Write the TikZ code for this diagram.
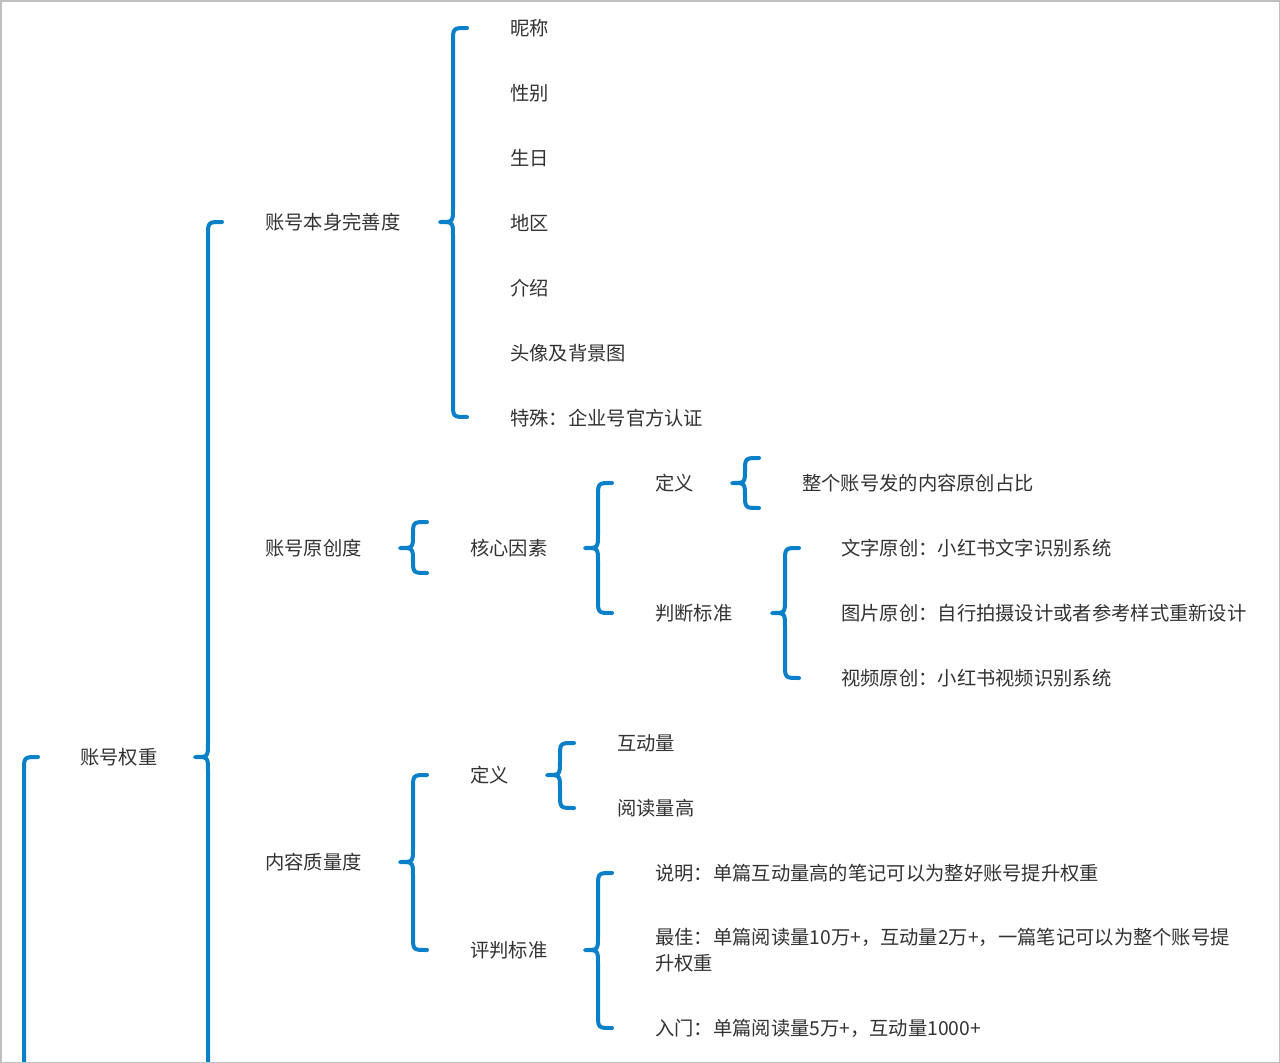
\documentclass[tikz,border=0pt]{standalone}
\usepackage{fontspec}
\setmainfont{Noto Sans CJK SC}
\definecolor{bl}{HTML}{0A80C8}
\definecolor{tx}{HTML}{333333}
\newcommand{\brc}[4]{\draw[brc] (#1+14,#2) .. controls (#1,#2) .. (#1,#2+14) -- (#1,#4-14) .. controls (#1,#4) .. (#1-13,#4) .. controls (#1,#4) .. (#1,#4+14) -- (#1,#3-14) .. controls (#1,#3) .. (#1+14,#3);}
\begin{document}
\begin{tikzpicture}[x=1pt,y=-1pt,
  brc/.style={draw=bl,line width=4pt,line cap=round,line join=round},
  lbl/.style={anchor=west,inner sep=0pt,text=tx,font=\fontsize{19.3}{26}\selectfont}]
\useasboundingbox (0,0) rectangle (1280,1063);
\fill[white] (0,0) rectangle (1280,1063);
\draw[gray!50,line width=3pt] (0,0) rectangle (1280,1063);
\begin{scope}
\clip (0,0) rectangle (1280,1061);
\draw[brc] (38,757) .. controls (24,757) .. (24,771) -- (24,1080);
\draw[brc] (222,222) .. controls (208,222) .. (208,236) -- (208,743) .. controls (208,757) .. (195,757) .. controls (208,757) .. (208,771) -- (208,1080);
\end{scope}
\brc{453}{28}{417}{222}
\brc{413}{522}{573}{548}
\brc{598}{483}{613}{548}
\brc{745}{458}{508}{483}
\brc{785}{548}{678}{613}
\brc{413}{775}{950}{862}
\brc{560}{743}{808}{775}
\brc{598}{873}{1028}{950}
\node[lbl] (root) at (80,757) {账号权重};
\node[lbl] (a) at (265,222) {账号本身完善度};
\node[lbl] (a1) at (510,28) {昵称};
\node[lbl] (a2) at (510,93) {性别};
\node[lbl] (a3) at (510,158) {生日};
\node[lbl] (a4) at (510,223) {地区};
\node[lbl] (a5) at (510,288) {介绍};
\node[lbl] (a6) at (510,353) {头像及背景图};
\node[lbl] (a7) at (510,418) {特殊：企业号官方认证};
\node[lbl] (b) at (265,548) {账号原创度};
\node[lbl] (b1) at (470,548) {核心因素};
\node[lbl] (b2) at (655,483) {定义};
\node[lbl] (b3) at (802,483) {整个账号发的内容原创占比};
\node[lbl] (b4) at (655,613) {判断标准};
\node[lbl] (b5) at (841,548) {文字原创：小红书文字识别系统};
\node[lbl] (b6) at (841,613) {图片原创：自行拍摄设计或者参考样式重新设计};
\node[lbl] (b7) at (841,678) {视频原创：小红书视频识别系统};
\node[lbl] (c) at (265,862) {内容质量度};
\node[lbl] (c1) at (470,775) {定义};
\node[lbl] (c2) at (617,743) {互动量};
\node[lbl] (c3) at (617,808) {阅读量高};
\node[lbl] (c4) at (470,950) {评判标准};
\node[lbl] (c5) at (655,873) {说明：单篇互动量高的笔记可以为整好账号提升权重};
\node[lbl,align=left] (c6) at (655,950) {最佳：单篇阅读量10万+，互动量2万+，一篇笔记可以为整个账号提\\升权重};
\node[lbl] (c7) at (655,1028) {入门：单篇阅读量5万+，互动量1000+};
\end{tikzpicture}
\end{document}
